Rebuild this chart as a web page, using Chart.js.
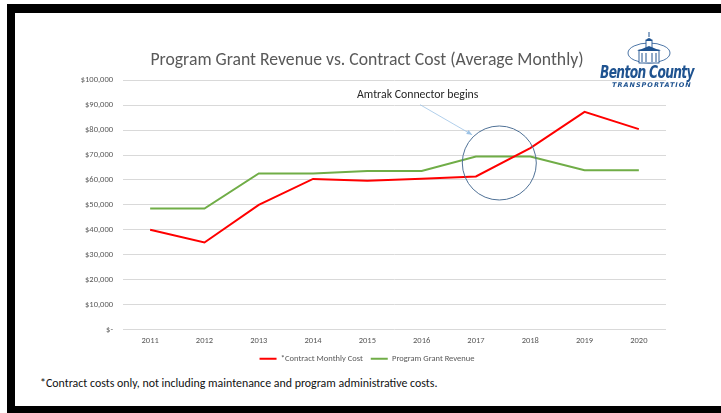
<!DOCTYPE html>
<html>
<head>
<meta charset="utf-8">
<title>Program Grant Revenue vs. Contract Cost</title>
<script src="https://cdn.jsdelivr.net/npm/chart.js@4.4.1/dist/chart.umd.min.js"></script>
<style>
  html, body { margin: 0; padding: 0; background: #fff; }
  #page { position: relative; width: 721px; height: 413px; overflow: hidden; background: #fff; }
  .bar { position: absolute; background: #000; }
  #chart-box { position: absolute; left: 68px; top: 0; width: 598px; height: 373px; }
  #note { position: absolute; left: 40px; top: 376px; font: 11.9px Carlito, Lato, sans-serif; color: #111; white-space: nowrap; }
  #logo { position: absolute; left: 596px; top: 30px; width: 104px; height: 60px; }
  #logo svg { position: absolute; left: 30px; top: 2px; }
  #logo .name { position: absolute; left: 4px; top: 32px; font: italic bold 17px "DejaVu Sans Condensed", sans-serif;
                color: #1f5390; letter-spacing: -0.8px; transform: scaleX(0.8); transform-origin: left top; white-space: nowrap; }
  #logo .sub { position: absolute; left: 16px; top: 51px; font: italic bold 6.5px "DejaVu Sans", sans-serif;
               color: #1f5390; letter-spacing: 1px; white-space: nowrap; }
</style>
</head>
<body>
<div id="page">
  <div id="chart-box"><canvas id="grant-chart" width="598" height="373"></canvas></div>
  <div id="logo">
    <svg width="46" height="34" viewBox="0 0 46 34">
      <ellipse cx="23" cy="21" rx="21" ry="10" fill="none" stroke="#1f5390" stroke-width="0.8"/>
      <rect x="20" y="8" width="6" height="9" fill="#fff" stroke="#1f5390" stroke-width="0.9"/>
      <path d="M19.5 9 Q23 3 26.5 9 Z" fill="#1f5390"/>
      <line x1="23" y1="0" x2="23" y2="5" stroke="#1f5390" stroke-width="1"/>
      <rect x="13" y="18" width="20" height="13" fill="#fff" stroke="#1f5390" stroke-width="0.9"/>
      <path d="M11 19 L23 14 L35 19 Z" fill="#1f5390"/>
      <line x1="16" y1="21" x2="16" y2="30" stroke="#1f5390"/>
      <line x1="20" y1="21" x2="20" y2="30" stroke="#1f5390"/>
      <line x1="26" y1="21" x2="26" y2="30" stroke="#1f5390"/>
      <line x1="30" y1="21" x2="30" y2="30" stroke="#1f5390"/>
    </svg>
    <div class="name">Benton County</div>
    <div class="sub">TRANSPORTATION</div>
  </div>
  <div id="note">*Contract costs only, not including maintenance and program administrative costs.</div>
  <div class="bar" style="left:7px; top:4px; right:0; height:9px;"></div>
  <div class="bar" style="left:7px; top:4px; width:8px; bottom:0;"></div>
  <div class="bar" style="left:7px; bottom:0; right:0; height:7px;"></div>
</div>

<script>
  var years = ['2011', '2012', '2013', '2014', '2015', '2016', '2017', '2018', '2019', '2020'];
  var contractMonthlyCost = [40000, 34900, 50000, 60400, 59700, 60500, 61400, 72800, 87300, 80400];
  var programGrantRevenue = [48500, 48500, 62600, 62600, 63600, 63600, 69400, 69400, 63900, 63900];
  var yMin = 0, yMax = 100000, yStep = 10000;

  var fontFamily = "Carlito, Lato, 'Open Sans', sans-serif";
  var gray = '#595959';

  // callout near 2017-2018: label, arrow and circle placed in data units
  var callout = {
    text: 'Amtrak Connector begins',
    textAt: [3.81, 94200],
    arrowFrom: [4.97, 90200],
    arrowTo: [5.93, 78100],
    circleAt: [6.43, 66800],
    radius: 37
  };

  var calloutPlugin = {
    id: 'callout',
    afterDatasetsDraw: function(chart) {
      var xs = chart.scales.x, ys = chart.scales.y, ctx = chart.ctx;
      function px(p) { return [xs.getPixelForValue(p[0]), ys.getPixelForValue(p[1])]; }
      ctx.save();
      // circle
      var c = px(callout.circleAt);
      ctx.beginPath();
      ctx.arc(c[0], c[1], callout.radius, 0, Math.PI * 2);
      ctx.strokeStyle = '#4f7196';
      ctx.lineWidth = 1;
      ctx.stroke();
      // arrow
      var a = px(callout.arrowFrom), b = px(callout.arrowTo);
      ctx.beginPath();
      ctx.moveTo(a[0], a[1]);
      ctx.lineTo(b[0], b[1]);
      ctx.strokeStyle = '#9dc3e6';
      ctx.lineWidth = 0.8;
      ctx.stroke();
      var ang = Math.atan2(b[1] - a[1], b[0] - a[0]);
      ctx.beginPath();
      ctx.moveTo(b[0], b[1]);
      ctx.lineTo(b[0] - 6 * Math.cos(ang - 0.4), b[1] - 6 * Math.sin(ang - 0.4));
      ctx.lineTo(b[0] - 6 * Math.cos(ang + 0.4), b[1] - 6 * Math.sin(ang + 0.4));
      ctx.closePath();
      ctx.fillStyle = '#9dc3e6';
      ctx.fill();
      // label
      var t = px(callout.textAt);
      ctx.font = '11.8px ' + fontFamily;
      ctx.fillStyle = '#262626';
      ctx.textBaseline = 'middle';
      ctx.textAlign = 'left';
      ctx.fillText(callout.text, t[0], t[1]);
      ctx.restore();
    }
  };

  new Chart(document.getElementById('grant-chart'), {
    type: 'line',
    data: {
      labels: years,
      datasets: [{
        label: '*Contract Monthly Cost',
        data: contractMonthlyCost,
        borderColor: '#ff0000',
        backgroundColor: '#ff0000',
        borderWidth: 2,
        pointRadius: 0,
        tension: 0
      }, {
        label: 'Program Grant Revenue',
        data: programGrantRevenue,
        borderColor: '#70ad47',
        backgroundColor: '#70ad47',
        borderWidth: 2,
        pointRadius: 0,
        tension: 0
      }]
    },
    options: {
      responsive: false,
      animation: false,
      layout: { padding: 0 },
      plugins: {
        title: {
          display: true,
          text: 'Program Grant Revenue vs. Contract Cost (Average Monthly)',
          color: gray,
          font: { family: fontFamily, size: 17.7, weight: 'normal', lineHeight: 1.2 },
          padding: { top: 50, bottom: 9 }
        },
        legend: {
          position: 'bottom',
          labels: {
            color: gray,
            usePointStyle: true,
            pointStyle: 'line',
            pointStyleWidth: 17,
            padding: 8,
            font: { family: fontFamily, size: 8.5 }
          }
        },
        tooltip: { enabled: false }
      },
      scales: {
        x: {
          offset: true,
          grid: { display: false, drawTicks: false },
          border: { display: false },
          ticks: { color: gray, padding: 6, font: { family: fontFamily, size: 8.5 } },
          afterFit: function(s) { s.height = 17; }
        },
        y: {
          min: yMin,
          max: yMax,
          grid: { color: '#d9d9d9', drawTicks: false },
          border: { display: false },
          ticks: {
            stepSize: yStep,
            color: gray,
            padding: 10,
            font: { family: fontFamily, size: 8.5 },
            callback: function(v) { return v === 0 ? '$-' : '$' + v.toLocaleString('en-US'); }
          },
          afterFit: function(s) { s.width = 55; }
        }
      }
    },
    plugins: [calloutPlugin]
  });
</script>
</body>
</html>
